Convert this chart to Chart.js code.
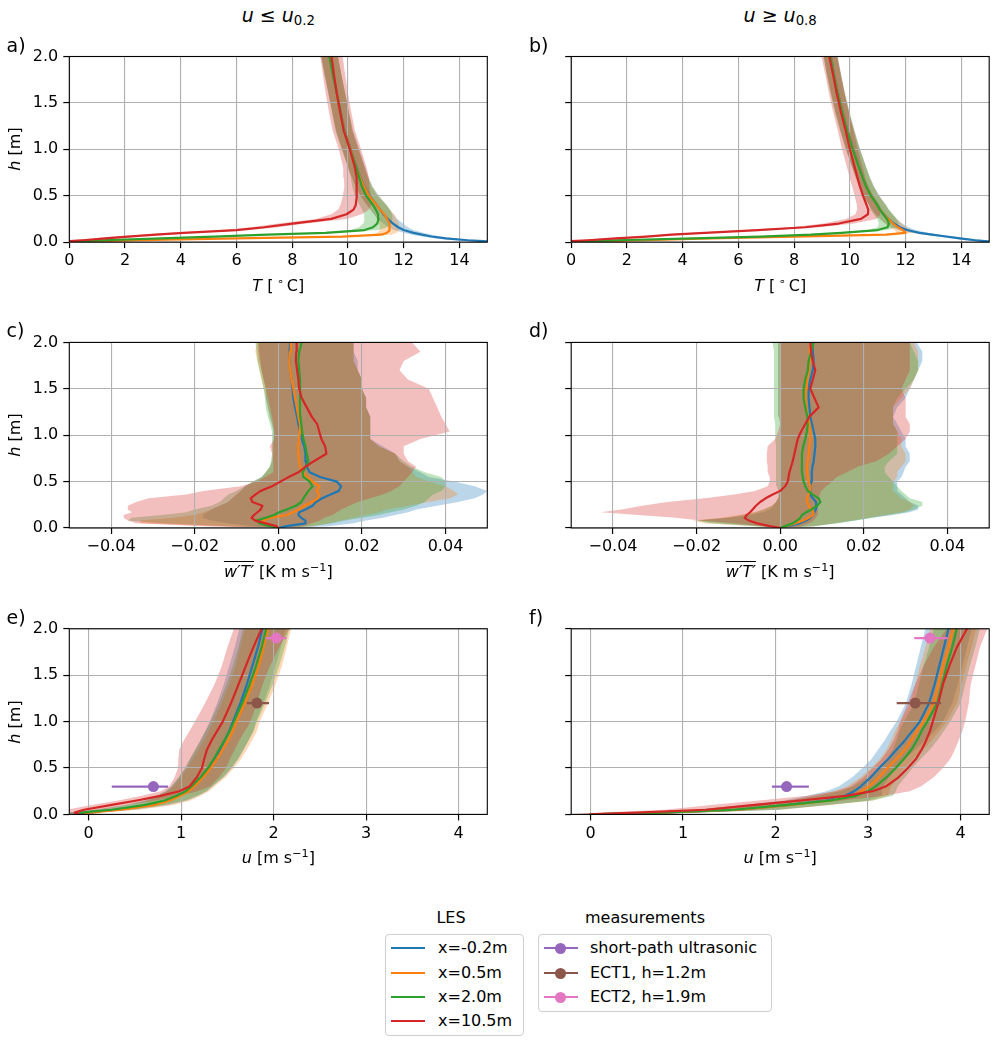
<!DOCTYPE html>
<html><head><meta charset="utf-8">
<script src="https://cdn.jsdelivr.net/npm/chart.js@4.4.1/dist/chart.umd.min.js"></script>
<style>
body{margin:0;background:#fff;}
#fig{position:relative;width:996px;height:1046px;background:#fff;font-family:'DejaVu Sans',sans-serif;color:#000;overflow:hidden;}
#fig canvas{position:absolute;}
.t{position:absolute;white-space:nowrap;line-height:1;font-size:16px;}
.t sup{font-size:70%;vertical-align:0.5em;line-height:0;}
.t sub{font-size:70%;vertical-align:-0.3em;line-height:0;}
.box{position:absolute;border:1px solid #cfcfcf;border-radius:4px;background:#fff;}
.sw{position:absolute;height:2px;}
.mk{position:absolute;width:11px;height:11px;border-radius:50%;}
</style></head><body><div id="fig"></div>
<script>
// ---------------- DATA ----------------
const SERIES_LABELS = ['x=-0.2m', 'x=0.5m', 'x=2.0m', 'x=10.5m'];
const SERIES_COLORS = ['#1f77b4', '#ff7f0e', '#2ca02c', '#d62728'];
const MEAS_LABELS = ['short-path ultrasonic', 'ECT1, h=1.2m', 'ECT2, h=1.9m'];
const MEAS_COLORS = ['#9467bd', '#8c564b', '#e377c2'];

const H_TICKS = [0, 0.5, 1, 1.5, 2];
const H_TICK_LABELS = ['0.0', '0.5', '1.0', '1.5', '2.0'];
const T_TICKS = [0, 2, 4, 6, 8, 10, 12, 14];
const T_TICK_LABELS = ['0', '2', '4', '6', '8', '10', '12', '14'];
const W_TICKS = [-0.04, -0.02, 0, 0.02, 0.04];
const W_TICK_LABELS = ['\u22120.04', '\u22120.02', '0.00', '0.02', '0.04'];
const U_TICKS = [0, 1, 2, 3, 4];
const U_TICK_LABELS = ['0', '1', '2', '3', '4'];

// heights (m)
const H_T = [0, 0.01, 0.02, 0.04, 0.06, 0.08, 0.1, 0.13, 0.16, 0.2, 0.25, 0.3, 0.35, 0.4, 0.5, 0.6, 0.7, 0.8, 1.0, 1.2, 1.4, 1.6, 1.8, 2.0];
const H_W = [0, 0.02, 0.05, 0.08, 0.11, 0.14, 0.17, 0.2, 0.24, 0.28, 0.32, 0.36, 0.4, 0.45, 0.5, 0.55, 0.6, 0.66, 0.72, 0.8, 0.88, 0.96, 1.04, 1.12, 1.2, 1.3, 1.4, 1.5, 1.6, 1.7, 1.8, 1.9, 2.0];
const H_U = [0, 0.02, 0.05, 0.1, 0.15, 0.2, 0.25, 0.3, 0.4, 0.5, 0.6, 0.7, 0.8, 0.9, 1.0, 1.2, 1.4, 1.6, 1.8, 2.0];

// a) T, u <= u0.2  (series order: x=-0.2, 0.5, 2.0, 10.5)
const aMean = [
  [15.3, 14.86, 14.3, 13.5, 13.0, 12.65, 12.35, 12.0, 11.8, 11.62, 11.42, 11.28, 11.15, 11.03, 10.78, 10.58, 10.44, 10.32, 10.1, 9.88, 9.74, 9.6, 9.47, 9.35],
  [0.0, 1.0, 2.5, 6.0, 9.8, 11.2, 11.4, 11.5, 11.5, 11.48, 11.4, 11.3, 11.15, 11.03, 10.76, 10.57, 10.43, 10.31, 10.09, 9.87, 9.73, 9.6, 9.47, 9.34],
  [0.0, 0.5, 1.2, 3.3, 5.2, 7.1, 9.2, 10.6, 10.9, 11.05, 11.1, 11.08, 11.0, 10.9, 10.65, 10.5, 10.4, 10.3, 10.07, 9.85, 9.73, 9.6, 9.46, 9.33],
  [-0.5, 0.0, 0.5, 1.3, 2.1, 3.1, 4.1, 6.0, 7.0, 8.0, 9.4, 9.95, 10.2, 10.28, 10.32, 10.32, 10.3, 10.25, 10.07, 9.85, 9.72, 9.6, 9.5, 9.41]
];
const aSpread = [
  [0.4, 0.4, 0.4, 0.35, 0.35, 0.35, 0.35, 0.35, 0.35, 0.35, 0.35, 0.35, 0.35, 0.35, 0.33, 0.3, 0.3, 0.3, 0.3, 0.3, 0.3, 0.3, 0.3, 0.3],
  [0.4, 0.4, 0.4, 0.4, 0.4, 0.35, 0.35, 0.35, 0.35, 0.35, 0.35, 0.35, 0.35, 0.35, 0.33, 0.3, 0.3, 0.3, 0.3, 0.3, 0.3, 0.3, 0.3, 0.3],
  [0.4, 0.4, 0.4, 0.4, 0.4, 0.4, 0.4, 0.5, 0.5, 0.5, 0.5, 0.5, 0.5, 0.48, 0.4, 0.35, 0.3, 0.3, 0.3, 0.3, 0.3, 0.3, 0.3, 0.3],
  [0.5, 0.5, 0.5, 0.5, 0.5, 0.5, 0.5, 0.5, 0.5, 0.5, 0.55, 0.55, 0.55, 0.55, 0.5, 0.45, 0.45, 0.42, 0.4, 0.4, 0.4, 0.4, 0.4, 0.4]
];

// b) T, u >= u0.8
const bMean = [
  [15.2, 14.85, 14.5, 13.95, 13.45, 12.95, 12.5, 12.05, 11.8, 11.58, 11.38, 11.22, 11.09, 11.0, 10.78, 10.61, 10.47, 10.35, 10.12, 9.92, 9.74, 9.58, 9.44, 9.32],
  [0.0, 1.2, 2.6, 5.0, 8.0, 11.3, 12.0, 11.9, 11.72, 11.55, 11.38, 11.22, 11.08, 10.99, 10.77, 10.6, 10.46, 10.34, 10.11, 9.91, 9.73, 9.57, 9.43, 9.31],
  [0.0, 0.8, 1.6, 4.4, 6.8, 8.6, 9.7, 11.0, 11.35, 11.4, 11.33, 11.2, 11.07, 10.98, 10.75, 10.58, 10.45, 10.33, 10.1, 9.9, 9.72, 9.56, 9.42, 9.3],
  [-0.3, 0.0, 0.6, 1.6, 2.7, 3.6, 4.8, 6.7, 8.4, 9.6, 10.4, 10.65, 10.66, 10.6, 10.47, 10.36, 10.27, 10.18, 10.0, 9.85, 9.68, 9.53, 9.4, 9.26]
];
const bSpread = [
  [0.35, 0.35, 0.35, 0.3, 0.3, 0.3, 0.3, 0.3, 0.3, 0.3, 0.3, 0.3, 0.3, 0.3, 0.28, 0.26, 0.25, 0.25, 0.25, 0.25, 0.25, 0.25, 0.25, 0.25],
  [0.35, 0.35, 0.35, 0.3, 0.3, 0.3, 0.3, 0.3, 0.3, 0.3, 0.3, 0.3, 0.3, 0.3, 0.28, 0.26, 0.25, 0.25, 0.25, 0.25, 0.25, 0.25, 0.25, 0.25],
  [0.35, 0.35, 0.35, 0.35, 0.35, 0.35, 0.35, 0.35, 0.35, 0.35, 0.35, 0.35, 0.33, 0.3, 0.28, 0.26, 0.25, 0.25, 0.25, 0.25, 0.25, 0.25, 0.25, 0.25],
  [0.4, 0.4, 0.4, 0.4, 0.4, 0.4, 0.45, 0.5, 0.5, 0.55, 0.55, 0.45, 0.4, 0.35, 0.3, 0.28, 0.28, 0.28, 0.28, 0.28, 0.28, 0.28, 0.28, 0.28]
];

// c) w'T', u <= u0.2
const cMean = [
  [0, 0.002, 0.0065, 0.0065, 0.0055, 0.0048, 0.005, 0.0065, 0.0082, 0.009, 0.0105, 0.0125, 0.0145, 0.015, 0.014, 0.01, 0.0075, 0.0068, 0.0066, 0.0065, 0.0062, 0.0056, 0.0052, 0.0048, 0.0045, 0.004, 0.0036, 0.0034, 0.0032, 0.0028, 0.0028, 0.0027, 0.0028],
  [0, -0.001, -0.003, -0.0036, -0.002, 0.002, 0.0035, 0.005, 0.0062, 0.008, 0.0095, 0.0098, 0.0092, 0.0098, 0.0082, 0.007, 0.0058, 0.0052, 0.005, 0.0048, 0.0047, 0.005, 0.0052, 0.0052, 0.0048, 0.0044, 0.004, 0.0036, 0.0032, 0.0028, 0.0027, 0.0028, 0.003],
  [0, -0.002, -0.0045, -0.0052, -0.003, -0.001, 0.0002, 0.002, 0.0042, 0.0055, 0.006, 0.0066, 0.0072, 0.0082, 0.0075, 0.006, 0.0058, 0.0066, 0.0072, 0.0068, 0.0065, 0.006, 0.0057, 0.0055, 0.0053, 0.0052, 0.0052, 0.0052, 0.0052, 0.005, 0.0048, 0.005, 0.0056],
  [0, -0.0005, -0.003, -0.0055, -0.0064, -0.0058, -0.005, -0.0042, -0.0038, -0.0062, -0.0066, -0.0055, -0.0042, -0.0015, 0.0005, 0.0025, 0.0048, 0.0065, 0.0085, 0.0115, 0.0112, 0.0103, 0.0098, 0.0093, 0.008, 0.0068, 0.0056, 0.005, 0.0048, 0.0045, 0.0042, 0.0043, 0.0044]
];
const cLow = [
  [0, -0.006, -0.012, -0.016, -0.018, -0.018, -0.017, -0.016, -0.014, -0.012, -0.011, -0.01, -0.009, -0.008, -0.006, -0.004, -0.003, -0.002, -0.0015, -0.0012, -0.0012, -0.0012, -0.0012, -0.0015, -0.002, -0.0025, -0.003, -0.003, -0.0035, -0.004, -0.0042, -0.0045, -0.0048],
  [0, -0.015, -0.033, -0.033, -0.025, -0.02, -0.018, -0.016, -0.014, -0.012, -0.011, -0.01, -0.009, -0.0076, -0.006, -0.0038, -0.003, -0.002, -0.0015, -0.0012, -0.0012, -0.001, -0.001, -0.0015, -0.002, -0.0025, -0.003, -0.0035, -0.004, -0.0045, -0.005, -0.0055, -0.0052],
  [0, -0.012, -0.028, -0.036, -0.035, -0.028, -0.022, -0.02, -0.016, -0.014, -0.013, -0.012, -0.01, -0.008, -0.006, -0.004, -0.003, -0.002, -0.0018, -0.0015, -0.0015, -0.0015, -0.0015, -0.002, -0.0025, -0.003, -0.0032, -0.0035, -0.004, -0.0045, -0.005, -0.0052, -0.0055],
  [0, -0.018, -0.034, -0.036, -0.037, -0.037, -0.035, -0.036, -0.036, -0.034, -0.031, -0.022, -0.018, -0.009, -0.005, -0.0032, -0.0012, -0.0012, -0.0012, -0.0015, -0.002, -0.001, -0.001, -0.0012, -0.0015, -0.002, -0.0025, -0.003, -0.0035, -0.004, -0.0045, -0.0048, -0.0048]
];
const cHigh = [
  [0, 0.012, 0.018, 0.021, 0.025, 0.028, 0.031, 0.033, 0.038, 0.043, 0.047, 0.049, 0.05, 0.047, 0.042, 0.036, 0.034, 0.031, 0.029, 0.028, 0.025, 0.022, 0.022, 0.022, 0.022, 0.021, 0.021, 0.02, 0.02, 0.019, 0.019, 0.018, 0.018],
  [0, 0.008, 0.012, 0.015, 0.018, 0.021, 0.024, 0.026, 0.031, 0.036, 0.041, 0.043, 0.042, 0.04, 0.036, 0.033, 0.032, 0.031, 0.029, 0.028, 0.024, 0.022, 0.022, 0.022, 0.022, 0.021, 0.021, 0.02, 0.02, 0.019, 0.018, 0.018, 0.018],
  [0, 0.008, 0.013, 0.016, 0.02, 0.024, 0.027, 0.03, 0.033, 0.035, 0.036, 0.037, 0.039, 0.04, 0.04, 0.039, 0.035, 0.032, 0.03, 0.028, 0.024, 0.022, 0.022, 0.022, 0.022, 0.021, 0.021, 0.02, 0.02, 0.019, 0.018, 0.018, 0.018],
  [0, 0.006, 0.008, 0.01, 0.011, 0.013, 0.014, 0.015, 0.017, 0.019, 0.022, 0.025, 0.027, 0.029, 0.03, 0.031, 0.032, 0.033, 0.031, 0.03, 0.03, 0.034, 0.041, 0.04, 0.039, 0.038, 0.037, 0.036, 0.031, 0.029, 0.03, 0.034, 0.032]
];

// d) w'T', u >= u0.8
const dMean = [
  [0, 0.002, 0.0045, 0.0062, 0.0072, 0.0078, 0.0082, 0.0085, 0.0088, 0.0086, 0.0078, 0.0072, 0.0072, 0.0072, 0.0074, 0.0075, 0.0076, 0.0077, 0.008, 0.0082, 0.0084, 0.0084, 0.008, 0.0076, 0.0072, 0.007, 0.0068, 0.0068, 0.0072, 0.0078, 0.008, 0.0078, 0.0076],
  [0, 0.0015, 0.0035, 0.0055, 0.0068, 0.0078, 0.008, 0.0074, 0.0068, 0.0065, 0.0064, 0.0068, 0.0071, 0.0072, 0.0068, 0.0066, 0.0064, 0.0064, 0.0066, 0.0068, 0.007, 0.0072, 0.0072, 0.007, 0.0066, 0.0062, 0.006, 0.0062, 0.0064, 0.0068, 0.007, 0.0071, 0.0072],
  [0, 0.0012, 0.003, 0.004, 0.0048, 0.0052, 0.0062, 0.0075, 0.0088, 0.0096, 0.0092, 0.0078, 0.0066, 0.006, 0.0056, 0.0054, 0.0052, 0.0052, 0.0052, 0.0052, 0.0055, 0.006, 0.0064, 0.0066, 0.0065, 0.006, 0.0056, 0.0056, 0.006, 0.0066, 0.0068, 0.0074, 0.008],
  [0, -0.0025, -0.0055, -0.0075, -0.0085, -0.008, -0.0072, -0.0066, -0.0058, -0.0048, -0.0035, -0.0018, 0.0, 0.0012, 0.0018, 0.002, 0.0022, 0.0026, 0.003, 0.0034, 0.0038, 0.0042, 0.005, 0.006, 0.007, 0.0092, 0.0082, 0.0072, 0.0078, 0.0084, 0.0078, 0.0074, 0.0072]
];
const dLow = [
  [0, -0.005, -0.014, -0.02, -0.012, -0.007, -0.004, -0.0025, -0.0015, -0.001, -0.0005, -0.0003, 0, 0, 0, 0, 0, 0, 0, 0, 0, 0, 0, 0, -0.0003, -0.0005, -0.0005, -0.0005, -0.0005, -0.0005, -0.0005, -0.0005, -0.0005],
  [0, -0.006, -0.018, -0.021, -0.014, -0.01, -0.006, -0.004, -0.002, -0.001, -0.0005, 0, 0, 0, 0, 0, 0, 0, 0, 0, 0, 0, 0, 0, -0.0003, -0.0005, -0.0005, -0.0005, -0.0005, -0.0005, -0.0005, -0.0005, -0.0005],
  [0, -0.006, -0.017, -0.02, -0.013, -0.009, -0.006, -0.004, -0.002, -0.001, -0.0005, -0.0005, -0.0005, -0.0008, -0.001, -0.001, -0.001, -0.001, -0.001, -0.001, -0.001, -0.0012, -0.0012, -0.0012, -0.0015, -0.0015, -0.0015, -0.0015, -0.0015, -0.0015, -0.0015, -0.0015, -0.0018],
  [0, -0.004, -0.011, -0.019, -0.025, -0.034, -0.043, -0.038, -0.033, -0.027, -0.018, -0.011, -0.006, -0.003, -0.0025, -0.0025, -0.003, -0.003, -0.0032, -0.0032, -0.003, -0.0012, -0.0005, 0, 0, 0, 0, 0, 0, 0, 0, 0, 0]
];
const dHigh = [
  [0, 0.008, 0.013, 0.018, 0.022, 0.027, 0.031, 0.033, 0.033, 0.031, 0.03, 0.029, 0.028, 0.028, 0.028, 0.029, 0.0295, 0.03, 0.031, 0.031, 0.03, 0.03, 0.029, 0.028, 0.027, 0.028, 0.03, 0.031, 0.032, 0.033, 0.034, 0.034, 0.0327],
  [0, 0.008, 0.013, 0.017, 0.021, 0.025, 0.029, 0.031, 0.032, 0.031, 0.029, 0.028, 0.027, 0.027, 0.027, 0.028, 0.028, 0.029, 0.03, 0.03, 0.029, 0.029, 0.028, 0.027, 0.027, 0.027, 0.029, 0.031, 0.032, 0.033, 0.033, 0.033, 0.032],
  [0, 0.008, 0.014, 0.018, 0.022, 0.026, 0.03, 0.032, 0.034, 0.034, 0.031, 0.03, 0.029, 0.028, 0.027, 0.026, 0.025, 0.025, 0.026, 0.028, 0.028, 0.028, 0.028, 0.027, 0.027, 0.027, 0.028, 0.03, 0.032, 0.033, 0.033, 0.032, 0.031],
  [0, 0.005, 0.007, 0.008, 0.0085, 0.009, 0.009, 0.009, 0.009, 0.009, 0.0092, 0.0095, 0.0098, 0.011, 0.0125, 0.0135, 0.016, 0.0185, 0.023, 0.026, 0.028, 0.03, 0.031, 0.031, 0.03, 0.03, 0.03, 0.029, 0.03, 0.031, 0.031, 0.031, 0.031]
];

// e) u, u <= u0.2
const eMean = [
  [-0.08, -0.05, 0.3, 0.65, 0.85, 0.97, 1.06, 1.12, 1.22, 1.3, 1.36, 1.42, 1.47, 1.52, 1.56, 1.64, 1.71, 1.77, 1.83, 1.88],
  [-0.05, 0.0, 0.35, 0.7, 0.88, 0.99, 1.08, 1.14, 1.24, 1.32, 1.39, 1.45, 1.51, 1.56, 1.6, 1.69, 1.77, 1.84, 1.89, 1.94],
  [-0.1, -0.09, 0.25, 0.6, 0.82, 0.95, 1.05, 1.11, 1.21, 1.29, 1.355, 1.41, 1.47, 1.525, 1.57, 1.66, 1.74, 1.81, 1.87, 1.92],
  [-0.1, -0.15, -0.05, 0.235, 0.52, 0.775, 0.98, 1.09, 1.17, 1.225, 1.25, 1.28, 1.33, 1.39, 1.45, 1.54, 1.62, 1.7, 1.78, 1.87]
];
const eSpread = [
  [0.12, 0.15, 0.2, 0.22, 0.22, 0.22, 0.22, 0.22, 0.24, 0.25, 0.26, 0.26, 0.26, 0.26, 0.25, 0.25, 0.25, 0.25, 0.25, 0.25],
  [0.12, 0.15, 0.2, 0.22, 0.22, 0.22, 0.22, 0.22, 0.24, 0.25, 0.26, 0.26, 0.26, 0.26, 0.25, 0.25, 0.25, 0.25, 0.25, 0.25],
  [0.12, 0.15, 0.2, 0.22, 0.22, 0.22, 0.22, 0.22, 0.24, 0.25, 0.26, 0.26, 0.26, 0.26, 0.25, 0.25, 0.25, 0.25, 0.25, 0.25],
  [0.12, 0.15, 0.2, 0.2, 0.2, 0.2, 0.2, 0.22, 0.24, 0.26, 0.28, 0.3, 0.3, 0.3, 0.3, 0.28, 0.26, 0.26, 0.28, 0.3]
];

// f) u, u >= u0.8
const fMean = [
  [0, 0.8, 1.6, 2.12, 2.55, 2.75, 2.85, 2.92, 3.03, 3.12, 3.22, 3.31, 3.4, 3.48, 3.56, 3.66, 3.72, 3.77, 3.82, 3.87],
  [0, 0.8, 1.6, 2.15, 2.6, 2.82, 2.93, 3.01, 3.12, 3.21, 3.31, 3.4, 3.47, 3.53, 3.6, 3.71, 3.76, 3.81, 3.87, 3.92],
  [0, 0.75, 1.55, 2.1, 2.6, 2.87, 3.0, 3.08, 3.2, 3.3, 3.39, 3.47, 3.53, 3.58, 3.64, 3.75, 3.8, 3.85, 3.91, 3.96],
  [0, 0.5, 1.25, 1.75, 2.27, 2.76, 3.05, 3.19, 3.33, 3.43, 3.52, 3.58, 3.63, 3.67, 3.7, 3.76, 3.81, 3.88, 3.96, 4.07]
];
const fSpread = [
  [0.3, 0.4, 0.45, 0.45, 0.45, 0.4, 0.3, 0.24, 0.2, 0.18, 0.18, 0.2, 0.22, 0.24, 0.25, 0.25, 0.25, 0.25, 0.25, 0.25],
  [0.3, 0.4, 0.45, 0.45, 0.45, 0.4, 0.3, 0.24, 0.2, 0.18, 0.18, 0.2, 0.22, 0.24, 0.25, 0.25, 0.25, 0.25, 0.25, 0.25],
  [0.3, 0.4, 0.45, 0.45, 0.45, 0.4, 0.3, 0.24, 0.2, 0.18, 0.18, 0.2, 0.22, 0.24, 0.25, 0.25, 0.25, 0.25, 0.25, 0.25],
  [0.3, 0.4, 0.45, 0.45, 0.45, 0.42, 0.4, 0.38, 0.38, 0.38, 0.37, 0.36, 0.35, 0.35, 0.35, 0.33, 0.3, 0.28, 0.25, 0.22]
];

// measurements (u panels)
const MEAS_H = [0.3, 1.2, 1.9];
const eMeasU = [0.70, 1.82, 2.03];
const eMeasLow = [0.25, 1.71, 1.91];
const eMeasHigh = [0.86, 1.95, 2.14];
const fMeasU = [2.12, 3.51, 3.67];
const fMeasLow = [1.96, 3.31, 3.50];
const fMeasHigh = [2.36, 3.79, 3.86];

// ---------------- LAYOUT ----------------
const fig = document.getElementById('fig');
const PLOT_W = 418, PLOT_H = 185.6;
const COL_LEFT = [69.3, 571.2];
const ROW_TOP = [56.5, 342.4, 628.8];
const CANVAS_W = 498, CANVAS_H = 262;

Chart.defaults.font.family = "'DejaVu Sans', sans-serif";
Chart.defaults.font.size = 16;
Chart.defaults.color = '#000';

function rgba(hex, a) {
  const n = parseInt(hex.slice(1), 16);
  return 'rgba(' + ((n >> 16) & 255) + ',' + ((n >> 8) & 255) + ',' + (n & 255) + ',' + a + ')';
}
const framePlugin = {
  id: 'frame',
  afterDatasetsDraw(chart) {
    const a = chart.chartArea, ctx = chart.ctx;
    ctx.save(); ctx.strokeStyle = '#000'; ctx.lineWidth = 1.1;
    ctx.strokeRect(a.left, a.top, a.right - a.left, a.bottom - a.top);
    ctx.restore();
  }
};

function makePanel(row, col, p) {
  const cLeft = col * 498;
  const cTop = Math.floor(ROW_TOP[row]) - 24;
  const padTop = ROW_TOP[row] - cTop;
  const yW = COL_LEFT[col] - cLeft;
  const padRight = cLeft + CANVAS_W - (COL_LEFT[col] + PLOT_W);
  const xH = CANVAS_H - padTop - PLOT_H;
  const cv = document.createElement('canvas');
  cv.width = CANVAS_W; cv.height = CANVAS_H;
  cv.style.left = cLeft + 'px'; cv.style.top = cTop + 'px';
  cv.style.width = CANVAS_W + 'px'; cv.style.height = CANVAS_H + 'px';
  fig.appendChild(cv);

  const datasets = [];
  p.mean.forEach((m, s) => {
    const lo = p.low[s], hi = p.high[s];
    const poly = p.h.map((h, i) => ({x: lo[i], y: h}))
      .concat(p.h.map((h, i) => ({x: hi[i], y: h})).reverse());
    datasets.push({data: poly, fill: 'shape', backgroundColor: rgba(SERIES_COLORS[s], 0.3),
      borderColor: 'rgba(0,0,0,0)', borderWidth: 0, pointRadius: 0, order: 20 - s});
    datasets.push({data: p.h.map((h, i) => ({x: m[i], y: h})), fill: false,
      borderColor: SERIES_COLORS[s], borderWidth: 2.2, pointRadius: 0,
      borderJoinStyle: 'round', borderCapStyle: 'round', order: 10 - s});
  });
  if (p.meas) {
    MEAS_H.forEach((h, k) => {
      datasets.push({data: [{x: p.meas.low[k], y: h}, {x: p.meas.high[k], y: h}], fill: false,
        borderColor: MEAS_COLORS[k], borderWidth: 2.2, pointRadius: 0, order: 2});
      datasets.push({data: [{x: p.meas.u[k], y: h}], showLine: false, fill: false,
        pointRadius: 5.5, pointBackgroundColor: MEAS_COLORS[k], pointBorderColor: MEAS_COLORS[k],
        pointBorderWidth: 0, order: 1});
    });
  }
  const grid = {color: '#b0b0b0', lineWidth: 1.1, tickLength: 6, tickColor: '#000', tickWidth: 1.2};
  new Chart(cv, {
    type: 'line',
    data: {datasets},
    plugins: [framePlugin],
    options: {
      responsive: false, animation: false, events: [], indexAxis: 'y',
      layout: {padding: {top: padTop, right: padRight, left: 0, bottom: 0}},
      plugins: {legend: {display: false}, tooltip: {enabled: false}, filler: {drawTime: 'beforeDraw'}},
      scales: {
        x: {type: 'linear', min: p.xMin, max: p.xMax,
          afterBuildTicks: ax => { ax.ticks = p.xTicks.map(v => ({value: v})); },
          afterFit: ax => { ax.height = xH; },
          ticks: {autoSkip: false, maxRotation: 0, minRotation: 0, padding: 3.5, color: '#000',
            callback: (v, i) => p.xTickLabels[i]},
          grid, border: {display: false}},
        y: {type: 'linear', min: 0, max: 2,
          afterBuildTicks: ax => { ax.ticks = H_TICKS.map(v => ({value: v})); },
          afterFit: ax => { ax.width = yW; },
          ticks: {display: col === 0, autoSkip: false, padding: 5, color: '#000',
            callback: (v, i) => H_TICK_LABELS[i]},
          grid, border: {display: false}}
      }
    }
  });
}

function spreadLow(mean, spread) { return mean.map((s, k) => s.map((v, i) => v - spread[k][i])); }
function spreadHigh(mean, spread) { return mean.map((s, k) => s.map((v, i) => v + spread[k][i])); }

makePanel(0, 0, {h: H_T, mean: aMean, low: spreadLow(aMean, aSpread), high: spreadHigh(aMean, aSpread),
  xMin: 0, xMax: 15, xTicks: T_TICKS, xTickLabels: T_TICK_LABELS});
makePanel(0, 1, {h: H_T, mean: bMean, low: spreadLow(bMean, bSpread), high: spreadHigh(bMean, bSpread),
  xMin: 0, xMax: 15, xTicks: T_TICKS, xTickLabels: T_TICK_LABELS});
makePanel(1, 0, {h: H_W, mean: cMean, low: cLow, high: cHigh,
  xMin: -0.05, xMax: 0.05, xTicks: W_TICKS, xTickLabels: W_TICK_LABELS});
makePanel(1, 1, {h: H_W, mean: dMean, low: dLow, high: dHigh,
  xMin: -0.05, xMax: 0.05, xTicks: W_TICKS, xTickLabels: W_TICK_LABELS});
makePanel(2, 0, {h: H_U, mean: eMean, low: spreadLow(eMean, eSpread), high: spreadHigh(eMean, eSpread),
  xMin: -0.209, xMax: 4.31, xTicks: U_TICKS, xTickLabels: U_TICK_LABELS,
  meas: {u: eMeasU, low: eMeasLow, high: eMeasHigh}});
makePanel(2, 1, {h: H_U, mean: fMean, low: spreadLow(fMean, fSpread), high: spreadHigh(fMean, fSpread),
  xMin: -0.209, xMax: 4.31, xTicks: U_TICKS, xTickLabels: U_TICK_LABELS,
  meas: {u: fMeasU, low: fMeasLow, high: fMeasHigh}});

// ---------------- TEXT ----------------
function txt(html, x, y, size, tf) {
  const d = document.createElement('div');
  d.className = 't';
  d.innerHTML = html;
  d.style.left = x + 'px'; d.style.top = y + 'px';
  d.style.fontSize = size + 'px';
  d.style.transform = tf;
  fig.appendChild(d);
  return d;
}
const C = 'translate(-50%,-50%)';
const colCenter = COL_LEFT.map(l => l + PLOT_W / 2);
txt('<i>u</i> \u2264 <i>u</i><sub>0.2</sub>', colCenter[0], 15, 19, C);
txt('<i>u</i> \u2265 <i>u</i><sub>0.8</sub>', colCenter[1], 15, 19, C);
const LETTERS = [['a)', 'b)'], ['c)', 'd)'], ['e)', 'f)']];
const LETTER_X = [6.5, 529];
const X_LABELS = [
  '<i>T</i> [\u2009<sup>\u2218</sup>\u2009C]',
  '<span style="text-decoration:overline"><i>w\u2032T\u2032</i></span> [K m s<sup>\u22121</sup>]',
  '<i>u</i> [m s<sup>\u22121</sup>]'
];
for (let r = 0; r < 3; r++) {
  const top = ROW_TOP[r], bottom = ROW_TOP[r] + PLOT_H;
  for (let c = 0; c < 2; c++) {
    txt(LETTERS[r][c], LETTER_X[c], top - 12, 19, 'translate(0,-50%)');
    txt(X_LABELS[r], colCenter[c], bottom + 44, 16, C);
  }
  txt('<i>h</i> [m]', 15, top + PLOT_H / 2, 16, C + ' rotate(-90deg)');
}

// ---------------- LEGEND ----------------
const LEGEND_ROW_Y = [948, 973, 997, 1021];
function legendBox(title, titleX, left, width, labels, colors, marker) {
  txt(title, titleX, 918, 16, C);
  const b = document.createElement('div');
  b.className = 'box';
  b.style.left = left + 'px'; b.style.top = '934px';
  b.style.width = width + 'px'; b.style.height = (LEGEND_ROW_Y[labels.length - 1] - 934 + 13) + 'px';
  fig.appendChild(b);
  labels.forEach((lab, i) => {
    const y = LEGEND_ROW_Y[i];
    const sw = document.createElement('div');
    sw.className = 'sw';
    sw.style.left = (left + 6) + 'px'; sw.style.width = '34px';
    sw.style.top = (y - 1) + 'px'; sw.style.background = colors[i];
    fig.appendChild(sw);
    if (marker) {
      const mk = document.createElement('div');
      mk.className = 'mk';
      mk.style.left = (left + 17) + 'px'; mk.style.top = (y - 5) + 'px';
      mk.style.background = colors[i];
      fig.appendChild(mk);
    }
    const d = document.createElement('div');
    d.className = 't';
    d.textContent = lab;
    d.style.left = (left + (marker ? 52 : 53)) + 'px';
    d.style.top = (y - 8) + 'px';
    fig.appendChild(d);
  });
}
legendBox('LES', 451, 385, 137, SERIES_LABELS, SERIES_COLORS, false);
legendBox('measurements', 645, 538, 232, MEAS_LABELS, MEAS_COLORS, true);
</script></body></html>
